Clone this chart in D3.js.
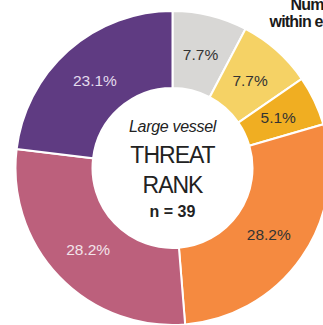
<!DOCTYPE html>
<html>
<head>
<meta charset="utf-8">
<script src="https://cdn.jsdelivr.net/npm/d3@7"></script>
<style>
  html, body { margin: 0; padding: 0; background: #ffffff; }
  svg { display: block; }
  text { font-family: "Liberation Sans", Arial, Helvetica, sans-serif; }
</style>
</head>
<body>
<svg id="chart" width="323" height="325"></svg>
<script>
// Threat rank shares for large vessels (n = 39), clockwise from 12 o'clock
const categories = ["Rank 1", "Rank 2", "Rank 3", "Rank 4", "Rank 5", "Rank 6"];
const counts = [3, 3, 2, 11, 11, 9];
const percentLabels = ["7.7%", "7.7%", "5.1%", "28.2%", "28.2%", "23.1%"];
const sliceColors = ["#d8d7d5", "#f5d265", "#f0ae22", "#f58a40", "#bc607c", "#5f3b82"];
const labelColors = ["#333333", "#333333", "#333333", "#333333", "#f3e4ea", "#e4dcee"];
const centerLines = ["Large vessel", "THREAT", "RANK", "n = 39"];
const noteLines = ["Number of", "within each"];

const svg = d3.select("#chart");
const cx = 172.5, cy = 168;
const outerR = 157, innerR = 80, labelR = 117;

const pie = d3.pie().sort(null).value(d => d)(counts);
const arc = d3.arc().innerRadius(innerR).outerRadius(outerR);
const labelArc = d3.arc().innerRadius(labelR).outerRadius(labelR);
const color = d3.scaleOrdinal().domain(categories).range(sliceColors);

const g = svg.append("g").attr("transform", `translate(${cx},${cy})`);

g.selectAll("path.slice")
  .data(pie)
  .join("path")
  .attr("class", "slice")
  .attr("d", arc)
  .attr("fill", (d, i) => color(categories[i]))
  .attr("stroke", "#ffffff")
  .attr("stroke-width", 2);

g.selectAll("text.pct")
  .data(pie)
  .join("text")
  .attr("class", "pct")
  .attr("transform", d => `translate(${labelArc.centroid(d)})`)
  .attr("text-anchor", "middle")
  .attr("dy", "0.36em")
  .attr("font-size", 15.5)
  .attr("fill", (d, i) => labelColors[i])
  .text((d, i) => percentLabels[i]);

// Centre caption
const center = g.append("g").attr("text-anchor", "middle").attr("fill", "#222222");
center.append("text").attr("y", -36.5).attr("font-size", 16).attr("font-style", "italic")
  .attr("letter-spacing", -0.3).text(centerLines[0]);
center.append("text").attr("y", -5).attr("font-size", 23).attr("letter-spacing", -1)
  .text(centerLines[1]);
center.append("text").attr("y", 25).attr("font-size", 23).attr("letter-spacing", -1)
  .text(centerLines[2]);
center.append("text").attr("y", 49).attr("font-size", 16).attr("font-weight", "bold")
  .text(centerLines[3]);

// Side note at top right, running off the right edge
const note = svg.append("g").attr("font-weight", "bold").attr("font-size", 16)
  .attr("letter-spacing", -0.8).attr("fill", "#1a1a1a");
note.append("text").attr("x", 290.5).attr("y", 10).text(noteLines[0]);
note.append("text").attr("x", 269.5).attr("y", 26.7).text(noteLines[1]);
</script>
</body>
</html>
